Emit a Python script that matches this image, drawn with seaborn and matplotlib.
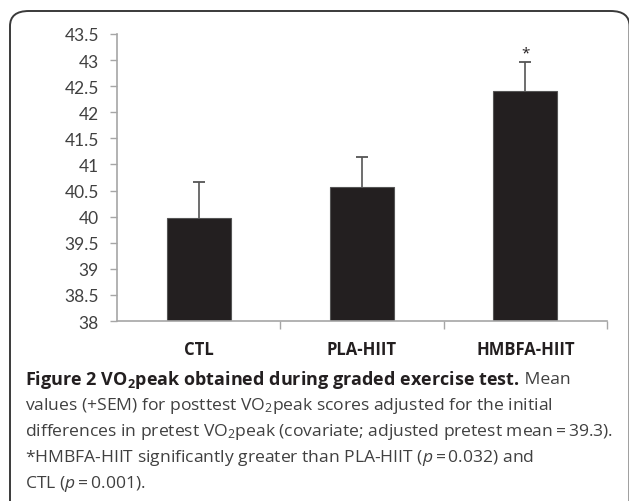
import matplotlib
matplotlib.use("Agg")
import matplotlib.pyplot as plt
import matplotlib.ticker as mtick
from matplotlib.patches import FancyBboxPatch
import pandas as pd
import seaborn as sns

# -- Data -----------------------------------------------------
groups    = ["CTL", "PLA-HIIT", "HMBFA-HIIT"]
vo2_mean  = [39.97, 40.57, 42.40]
vo2_sem   = [0.70, 0.58, 0.57]
y_ticks   = [38, 38.5, 39, 39.5, 40, 40.5, 41, 41.5, 42, 42.5, 43, 43.5]
sig_mark  = ["", "", "*"]

caption_lines = [
    "values (+SEM) for posttest VO$_\\mathrm{2}$peak scores adjusted for the initial",
    "differences in pretest VO$_\\mathrm{2}$peak (covariate; adjusted pretest mean\u2009=\u200939.3).",
    "*HMBFA-HIIT significantly greater than PLA-HIIT ($\\mathit{p}$\u2009=\u20090.032) and",
    "CTL ($\\mathit{p}$\u2009=\u20090.001).",
]

# -- Style ----------------------------------------------------
sns.set_style("white")
plt.rcParams["font.family"] = ["Open Sans", "DejaVu Sans"]
plt.rcParams["mathtext.fontset"] = "custom"
plt.rcParams["mathtext.rm"] = "Open Sans"
plt.rcParams["mathtext.it"] = "Open Sans:italic"
plt.rcParams["mathtext.bf"] = "Open Sans:bold"

BAR_COL  = "#231f20"
AXIS_COL = "#a6a6a6"
ERR_COL  = "#555555"
TXT_COL  = "#404040"
AX_FONT  = ["Lato", "DejaVu Sans"]
CAP_SIZE = 12.6

df = pd.DataFrame({"group": groups, "vo2": vo2_mean, "sem": vo2_sem})
df["top"] = df["vo2"] + df["sem"]

fig = plt.figure(figsize=(6.29, 5.02), dpi=100)
ax = fig.add_axes([117 / 629, 1 - 322 / 502, 490 / 629, 287 / 502])

sns.barplot(data=df, x="group", y="vo2", color=BAR_COL, width=0.39,
            edgecolor=ERR_COL, linewidth=0.8, saturation=1, ax=ax)
# upward-only SEM bars
xs = list(range(len(groups)))
ax.vlines(xs, df["vo2"], df["top"], color=ERR_COL, linewidth=1.2, zorder=3)
ax.scatter(xs, df["top"], marker="_", s=70, color=ERR_COL,
           linewidths=1.3, zorder=3)
for i, (t, mark) in enumerate(zip(df["top"], sig_mark)):
    if mark:
        ax.annotate(mark, (i, t), xytext=(0, 1), textcoords="offset points",
                    ha="center", va="bottom", fontsize=11, color=BAR_COL)

ax.set_ylim(38, 43.5)
ax.set_xlim(-0.5, 2.5)
ax.set_yticks(y_ticks)
ax.yaxis.set_major_formatter(mtick.FuncFormatter(lambda v, _: f"{v:g}"))
ax.tick_params(axis="y", direction="out", length=5, width=1, color=AXIS_COL,
               labelsize=12.5, labelcolor=TXT_COL, pad=8, left=True)
for lab in ax.get_yticklabels():
    lab.set_family(AX_FONT)
ax.set_xticks(xs)
ax.set_xticklabels(groups, fontweight="bold", fontsize=12, color=BAR_COL)
ax.tick_params(axis="x", length=0, pad=14)
ax.set_xticks([0.5, 1.5, 2.5], minor=True)
ax.tick_params(axis="x", which="minor", direction="out", length=6,
               width=1, color=AXIS_COL, bottom=True)

for side in ["top", "right"]:
    ax.spines[side].set_visible(False)
for side in ["left", "bottom"]:
    ax.spines[side].set_color(AXIS_COL)
    ax.spines[side].set_linewidth(1.2)

ax.set_xlabel("")
ax.set_ylabel("VO$_\\mathbf{2}$peak (ml·kg$^{\\mathbf{-1}}$·min$^{\\mathbf{-1}}$)",
              fontweight="bold", fontsize=11.5, color=BAR_COL)
ax.yaxis.label.set_transform(fig.transFigure)
ax.yaxis.label.set_position((40 / 629, 1 - 187 / 502))

# -- Frame box (rounded corners, bottom cut off) --------------
box = FancyBboxPatch((10 / 629, -0.1), (629.5 - 10) / 629, 1.1 - 12 / 502,
                     boxstyle="round,pad=0,rounding_size=0.03",
                     transform=fig.transFigure, fill=False,
                     edgecolor="#3a3a3a", linewidth=1.4, clip_on=False)
fig.patches.append(box)

# -- Caption --------------------------------------------------
x0 = 25 / 629
y_first = 1 - 380 / 502
line_h = 26 / 502
t1 = fig.text(x0, y_first, "Figure 2 VO$_\\mathbf{2}$peak obtained during graded exercise test.",
              fontsize=CAP_SIZE + 0.4, fontweight="bold", color=BAR_COL, va="center")
fig.canvas.draw()
bb = t1.get_window_extent()
fig.text(bb.x1 / fig.bbox.width, y_first, " Mean", fontsize=CAP_SIZE,
         color=TXT_COL, va="center")
for k, line in enumerate(caption_lines):
    fig.text(x0, y_first - (k + 1) * line_h, line, fontsize=CAP_SIZE,
             color=TXT_COL, va="center")

fig.savefig("out.png", dpi=100)
